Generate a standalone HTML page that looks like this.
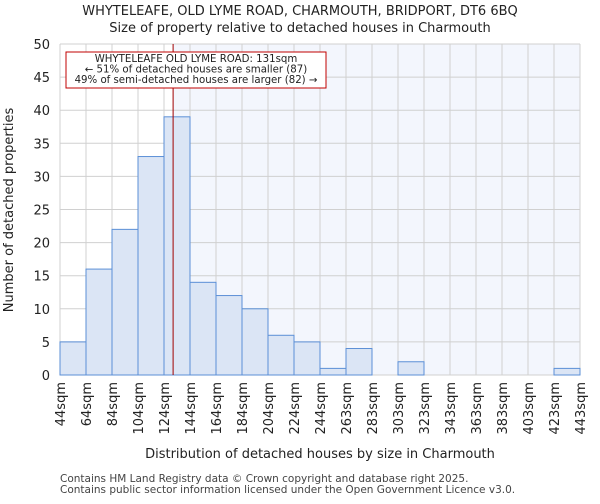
<!DOCTYPE html>
<html><head><meta charset="utf-8"><style>
body{margin:0;background:#fff;font-family:"DejaVu Sans","Liberation Sans",sans-serif}
text{font-family:"DejaVu Sans","Liberation Sans",sans-serif;fill:#222}
</style></head><body>
<svg id="chart" width="600" height="500" xmlns="http://www.w3.org/2000/svg">
<text x="300" y="15" text-anchor="middle" font-size="13">WHYTELEAFE, OLD LYME ROAD, CHARMOUTH, BRIDPORT, DT6 6BQ</text>
<text x="300" y="32" text-anchor="middle" font-size="13">Size of property relative to detached houses in Charmouth</text>
<g id="plot"></g>
<text x="320" y="458" text-anchor="middle" font-size="13">Distribution of detached houses by size in Charmouth</text>
<text transform="translate(13,210) rotate(-90)" text-anchor="middle" font-size="13">Number of detached properties</text>
<text x="60" y="482" font-size="10.5" style="fill:#444">Contains HM Land Registry data © Crown copyright and database right 2025.</text>
<text x="60" y="493" font-size="10.5" style="fill:#444">Contains public sector information licensed under the Open Government Licence v3.0.</text>
</svg>
<script>
const binLabels=["44sqm","64sqm","84sqm","104sqm","124sqm","144sqm","164sqm","184sqm","204sqm","224sqm","244sqm","263sqm","283sqm","303sqm","323sqm","343sqm","363sqm","383sqm","403sqm","423sqm","443sqm"];
const counts=[5,16,22,33,39,14,12,10,6,5,1,4,0,2,0,0,0,0,0,1];
const yTicks=[0,5,10,15,20,25,30,35,40,45,50];
const propertySize=131;
const binStart=44, binWidth=20;
const NS="http://www.w3.org/2000/svg";
const L=60,R=580,T=44,B=375;
const x=v=>L+(v-binStart)/(binWidth*counts.length)*(R-L);
const xi=i=>L+i*(R-L)/counts.length;
const y=v=>B-v/50*(B-T);
const g=document.getElementById('plot');
function mk(t,a,p){const e=document.createElementNS(NS,t);for(const k in a)e.setAttribute(k,a[k]);(p||g).appendChild(e);return e;}
const px=x(propertySize);
const bg=mk('rect',{x:px,y:T,width:R-px,height:B-T,fill:'#f3f6fd'});


for(let i=0;i<=counts.length;i++){const l=mk('line',{x1:xi(i),x2:xi(i),y1:T,y2:B,stroke:'#d0d0d0','stroke-width':1});

}
yTicks.forEach(t=>{const l=mk('line',{x1:L,x2:R,y1:y(t),y2:y(t),stroke:'#d0d0d0','stroke-width':1});


const tx=mk('text',{x:L-10,y:y(t)+5,'text-anchor':'end','font-size':13});tx.textContent=t;

});
counts.forEach((c,i)=>{if(c<=0)return;const r=mk('rect',{x:xi(i),y:y(c),width:xi(i+1)-xi(i),height:B-y(c),fill:'#dbe5f5',stroke:'#5b8fd6','stroke-width':1});

});
binLabels.forEach((b,i)=>{const tx=mk('text',{transform:`translate(${xi(i)+5},382) rotate(-90)`,'text-anchor':'end','font-size':13});tx.textContent=b;

});
const pl=mk('line',{x1:px,x2:px,y1:T,y2:B,stroke:'#a00000','stroke-width':1});


const box=mk('rect',{x:66,y:52,width:260,height:36,fill:'#fff',stroke:'#c00000','stroke-width':1});


["WHYTELEAFE OLD LYME ROAD: "+propertySize+"sqm","← 51% of detached houses are smaller (87)","49% of semi-detached houses are larger (82) →"].forEach((s,i)=>{const tx=mk('text',{x:196,y:62+i*10.5,'text-anchor':'middle','font-size':10.2});tx.textContent=s;

});
</script>
</body></html>
